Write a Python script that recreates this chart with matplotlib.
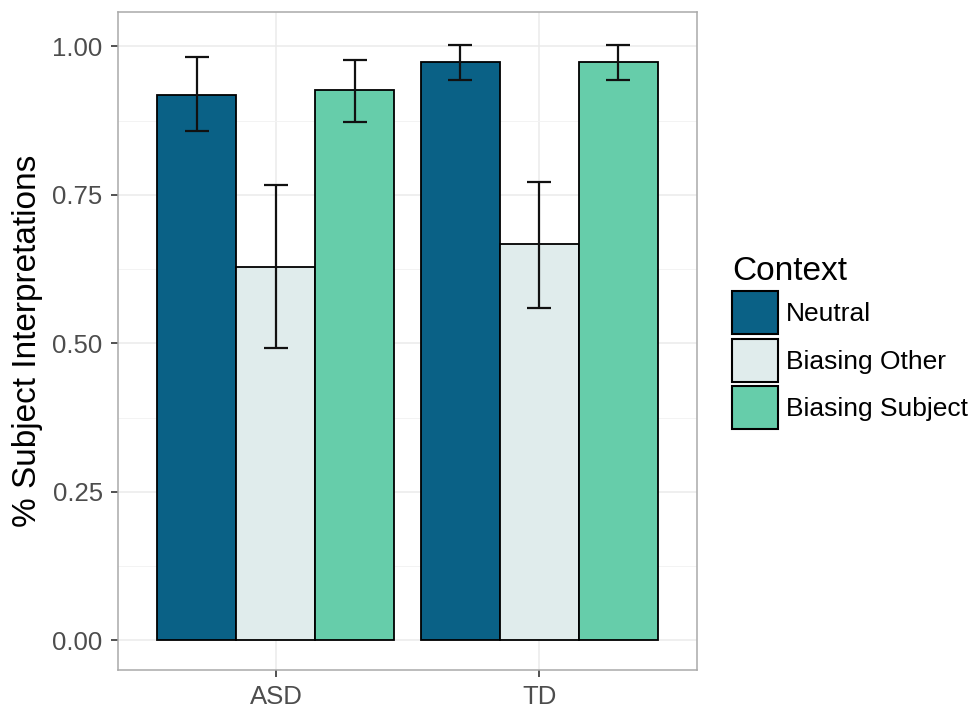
import numpy as np
import matplotlib
matplotlib.use('Agg')
import matplotlib.pyplot as plt
from matplotlib.patches import Patch

plt.rcParams['font.family'] = ['Liberation Sans', 'DejaVu Sans']

groups = ['ASD', 'TD']
contexts = ['Neutral', 'Biasing Other', 'Biasing Subject']
colors = ['#0a6186', '#e0ecec', '#66cdaa']

# mean proportion of subject interpretations, per context, per group
means = [
    [0.918, 0.974],   # Neutral
    [0.629, 0.668],   # Biasing Other
    [0.926, 0.974],   # Biasing Subject
]
lower = [
    [0.857, 0.944],
    [0.492, 0.560],
    [0.872, 0.944],
]
upper = [
    [0.982, 1.003],
    [0.767, 0.772],
    [0.977, 1.003],
]

fig = plt.figure(figsize=(9.8, 7.1), dpi=100)
ax = fig.add_axes([118/980, 40/710, (697-118)/980, (670-12)/710])

x = np.arange(1, len(groups) + 1)
width = 0.3
for i, ctx in enumerate(contexts):
    pos = x + (i - 1) * width
    m = np.array(means[i])
    ax.bar(pos, m, width=width, color=colors[i], edgecolor='black',
           linewidth=1.3, zorder=2, label=ctx)
    err = [m - np.array(lower[i]), np.array(upper[i]) - m]
    ax.errorbar(pos, m, yerr=err, fmt='none', ecolor='#111111',
                elinewidth=1.6, capsize=8.5, capthick=1.6, zorder=3)

ax.set_xlim(0.4, 2.6)
ax.set_ylim(-0.05, 1.058)
ax.set_xticks(x)
ax.set_xticklabels(groups)
ax.set_yticks([0, 0.25, 0.5, 0.75, 1.0])
ax.set_yticklabels(['0.00', '0.25', '0.50', '0.75', '1.00'])
ax.set_yticks([0.125, 0.375, 0.625, 0.875], minor=True)
ax.tick_params(axis='both', which='major', labelsize=18.5, labelcolor='#4d4d4d',
               color='#333333', length=5, width=1.2, pad=6)
ax.tick_params(axis='y', which='minor', length=0)
ax.grid(True, which='major', color='#ebebeb', linewidth=1.1, zorder=0)
ax.grid(True, which='minor', axis='y', color='#f3f3f3', linewidth=0.7, zorder=0)
ax.set_axisbelow(True)
for s in ax.spines.values():
    s.set_color('#aaaaaa')
    s.set_linewidth(1.1)

ax.set_ylabel('% Subject Interpretations', fontsize=24, labelpad=7)

handles = [Patch(facecolor=c, edgecolor='black', linewidth=1.5) for c in colors]
leg = fig.legend(handles, contexts, loc='upper left',
                 bbox_to_anchor=(732/980, 1 - 256/710), frameon=False,
                 fontsize=19, title='Context', title_fontsize=24,
                 handlelength=1.75, handleheight=2.13, handletextpad=0.3,
                 labelspacing=0.17, borderpad=0, borderaxespad=0)
leg._legend_box.align = 'left'

fig.savefig('out.png', dpi=100)
